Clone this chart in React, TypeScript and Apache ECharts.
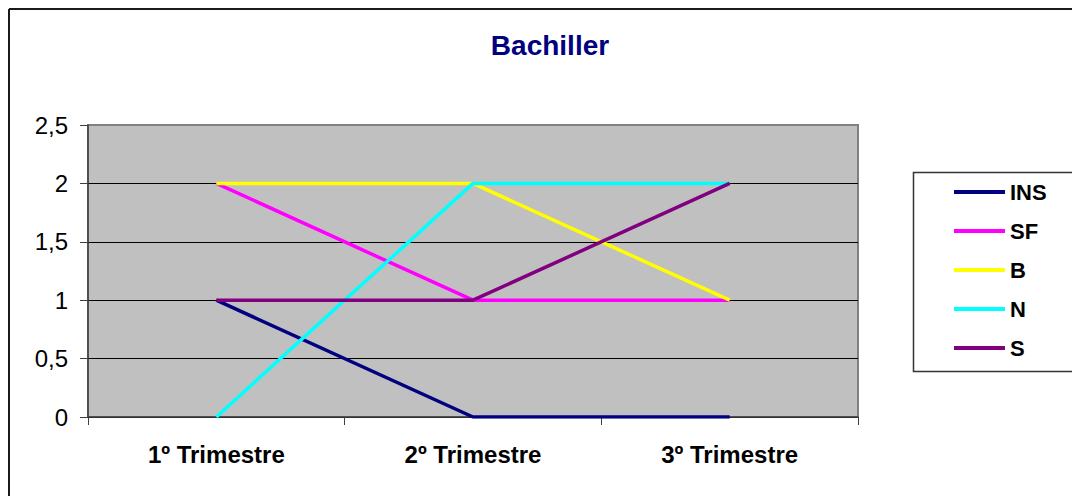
import React, { useEffect, useRef } from "react";
import * as echarts from "echarts";

const categories = ["1º Trimestre", "2º Trimestre", "3º Trimestre"];
const seriesNames = ["INS", "SF", "B", "N", "S"];
const insValues = [1, 0, 0];
const sfValues = [2, 1, 1];
const bValues = [2, 2, 1];
const nValues = [0, 2, 2];
const sValues = [1, 1, 2];
const seriesColors = ["#000080", "#FF00FF", "#FFFF00", "#00FFFF", "#800080"];
const titleText = "Bachiller";

const FONT = "'Liberation Sans', Arial, sans-serif";

export default function App() {
  const ref = useRef<HTMLDivElement>(null);
  useEffect(() => {
    if (!ref.current) return;
    const chart = echarts.init(ref.current, undefined, { renderer: "svg" });
    const values = [insValues, sfValues, bValues, nValues, sValues];
    chart.setOption({
      animation: false,
      backgroundColor: "#ffffff",
      textStyle: { fontFamily: FONT },
      graphic: [
        { type: "line", shape: { x1: 1, y1: 1, x2: 1072, y2: 1 }, style: { stroke: "#1a1a1a", lineWidth: 2 } },
        { type: "line", shape: { x1: 1, y1: 1, x2: 1, y2: 488 }, style: { stroke: "#1a1a1a", lineWidth: 2 } },
        {
          type: "text",
          x: 542,
          y: 37,
          style: {
            text: titleText,
            fill: "#000080",
            font: `bold 28px ${FONT}`,
            textAlign: "center",
            textVerticalAlign: "middle",
          },
        },
        {
          type: "rect",
          shape: { x: 905.5, y: 164.5, width: 162, height: 199 },
          style: { fill: "#ffffff", stroke: "#333333", lineWidth: 1.5 },
          z: 0,
        },
      ],
      legend: {
        orient: "vertical",
        left: 946,
        top: 173,
        padding: 0,
        itemWidth: 51,
        itemHeight: 4,
        itemGap: 17,
        icon: "rect",
        data: seriesNames,
        textStyle: {
          fontFamily: FONT,
          fontSize: 22,
          fontWeight: "bold",
          color: "#000000",
          lineHeight: 22,
        },
        z: 5,
      },
      grid: {
        left: 80,
        top: 117,
        right: 222,
        bottom: 79,
        show: true,
        backgroundColor: "#C0C0C0",
        borderColor: "#808080",
        borderWidth: 2,
      },
      xAxis: {
        type: "category",
        data: categories,
        boundaryGap: true,
        axisLine: { show: true, lineStyle: { color: "#404040", width: 1.5 } },
        axisTick: { show: true, length: 8, lineStyle: { color: "#404040", width: 1 } },
        axisLabel: {
          margin: 25,
          fontFamily: FONT,
          fontSize: 24,
          fontWeight: "bold",
          color: "#000000",
        },
        splitLine: { show: false },
      },
      yAxis: {
        type: "value",
        min: 0,
        max: 2.5,
        interval: 0.5,
        axisLine: { show: true, lineStyle: { color: "#404040", width: 1.5 } },
        axisTick: { show: true, length: 8, lineStyle: { color: "#404040", width: 1 } },
        axisLabel: {
          margin: 20,
          fontFamily: FONT,
          fontSize: 24,
          color: "#000000",
          formatter: (v: number) => String(v).replace(".", ","),
        },
        splitLine: {
          show: true,
          lineStyle: {
            color: ["#000000", "#000000", "#000000", "#000000", "#000000", "#808080"],
            width: 1,
          },
        },
      },
      series: seriesNames.map((name, i) => ({
        name,
        type: "line",
        data: values[i],
        showSymbol: false,
        symbol: "none",
        color: seriesColors[i],
        lineStyle: { color: seriesColors[i], width: 3.5 },
        z: 2 + i,
      })),
    });
    return () => chart.dispose();
  }, []);
  return <div ref={ref} style={{ width: 1072, height: 488 }} />;
}
